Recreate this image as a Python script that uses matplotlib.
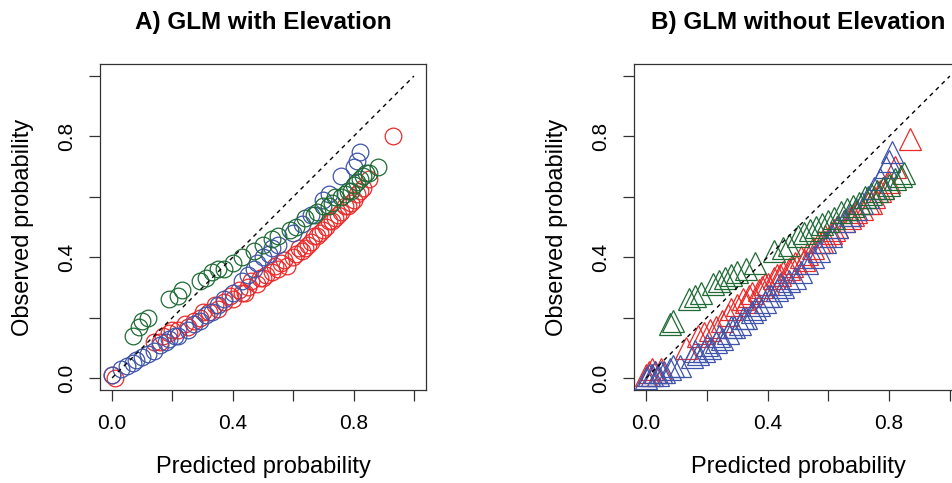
import matplotlib
matplotlib.use("Agg")
import matplotlib.pyplot as plt

plt.rcParams['font.family'] = ['Liberation Sans', 'DejaVu Sans']

RED = '#ec2a2a'
BLUE = '#3f55ab'
GREEN = '#1f6b36'

# Panel A: GLM with elevation (open circles)
a_red_x = [0.00, 0.01, 0.14, 0.16, 0.17, 0.19, 0.20, 0.22, 0.24, 0.25, 0.27, 0.29, 0.30, 0.32,
           0.34, 0.35, 0.37, 0.39, 0.40, 0.42, 0.43, 0.45, 0.46, 0.48, 0.50, 0.51, 0.53, 0.55,
           0.56, 0.58, 0.60, 0.61, 0.63, 0.65, 0.66, 0.68, 0.70, 0.71, 0.73, 0.75, 0.76, 0.78,
           0.80, 0.81, 0.83, 0.85, 0.93,
           0.44, 0.49, 0.54, 0.57, 0.62, 0.64, 0.67, 0.69, 0.72, 0.74, 0.77, 0.79, 0.82]
a_red_y = [0.01, 0.00, 0.12, 0.12, 0.14, 0.15, 0.16, 0.16, 0.18, 0.17, 0.19, 0.20, 0.22, 0.22,
           0.24, 0.23, 0.25, 0.27, 0.26, 0.29, 0.28, 0.30, 0.32, 0.31, 0.33, 0.34, 0.35, 0.36,
           0.38, 0.37, 0.40, 0.41, 0.42, 0.44, 0.45, 0.47, 0.49, 0.50, 0.52, 0.54, 0.55, 0.57,
           0.59, 0.61, 0.63, 0.66, 0.80,
           0.28, 0.33, 0.37, 0.39, 0.43, 0.43, 0.47, 0.48, 0.52, 0.53, 0.57, 0.58, 0.62]
a_blue_x = [0.00, 0.03, 0.05, 0.07, 0.08, 0.10, 0.12, 0.14, 0.16, 0.18, 0.19, 0.21, 0.22, 0.25,
            0.27, 0.29, 0.31, 0.33, 0.35, 0.37, 0.40, 0.43, 0.45, 0.47, 0.48, 0.50, 0.52, 0.53,
            0.55, 0.60, 0.63, 0.66, 0.70, 0.72, 0.76, 0.80, 0.81, 0.82]
a_blue_y = [0.01, 0.03, 0.04, 0.05, 0.06, 0.07, 0.08, 0.09, 0.11, 0.12, 0.13, 0.14, 0.14, 0.16,
            0.18, 0.19, 0.21, 0.22, 0.24, 0.26, 0.28, 0.32, 0.34, 0.36, 0.38, 0.40, 0.41, 0.43,
            0.44, 0.48, 0.51, 0.54, 0.59, 0.61, 0.67, 0.70, 0.72, 0.75]
a_green_x = [0.07, 0.09, 0.10, 0.12, 0.19, 0.22, 0.23, 0.29, 0.31, 0.33, 0.35, 0.37, 0.40, 0.43,
             0.47, 0.50, 0.53, 0.55, 0.59, 0.61, 0.64, 0.67, 0.68, 0.70, 0.72, 0.73, 0.74, 0.76,
             0.77, 0.78, 0.79, 0.80, 0.81, 0.82, 0.83, 0.84, 0.85, 0.88]
a_green_y = [0.14, 0.17, 0.19, 0.20, 0.26, 0.27, 0.29, 0.32, 0.33, 0.35, 0.36, 0.36, 0.38, 0.40,
             0.42, 0.44, 0.46, 0.47, 0.49, 0.50, 0.53, 0.54, 0.55, 0.57, 0.57, 0.58, 0.60, 0.60,
             0.61, 0.62, 0.62, 0.64, 0.65, 0.66, 0.67, 0.68, 0.68, 0.70]

# Panel B: GLM without elevation (open triangles)
b_red_x = [0.00, 0.01, 0.02, 0.03, 0.05, 0.13, 0.17, 0.19, 0.21, 0.23, 0.25, 0.27, 0.28, 0.30,
           0.32, 0.33, 0.35, 0.37, 0.38, 0.40, 0.42, 0.43, 0.45, 0.47, 0.49, 0.51, 0.53, 0.55,
           0.57, 0.59, 0.61, 0.63, 0.65, 0.67, 0.69, 0.71, 0.73, 0.75, 0.77, 0.80, 0.82, 0.87,
           0.34, 0.39, 0.44, 0.48, 0.52, 0.58, 0.62, 0.68, 0.74, 0.78]
b_red_y = [0.01, 0.02, 0.03, 0.02, 0.03, 0.10, 0.14, 0.15, 0.16, 0.17, 0.19, 0.21, 0.23, 0.24,
           0.26, 0.25, 0.28, 0.29, 0.30, 0.31, 0.33, 0.34, 0.35, 0.36, 0.38, 0.40, 0.41, 0.43,
           0.45, 0.47, 0.48, 0.50, 0.52, 0.53, 0.55, 0.56, 0.58, 0.60, 0.62, 0.65, 0.70, 0.79,
           0.27, 0.31, 0.34, 0.37, 0.39, 0.45, 0.49, 0.54, 0.58, 0.63]
b_blue_x = [0.00, 0.01, 0.02, 0.03, 0.04, 0.05, 0.06, 0.08, 0.09, 0.11, 0.15, 0.17, 0.19, 0.21,
            0.23, 0.25, 0.27, 0.29, 0.31, 0.33, 0.35, 0.37, 0.39, 0.41, 0.43, 0.45, 0.47, 0.49,
            0.51, 0.53, 0.55, 0.57, 0.59, 0.61, 0.63, 0.65, 0.67, 0.69, 0.71, 0.73, 0.75, 0.77,
            0.79, 0.80, 0.81,
            0.16, 0.20, 0.24, 0.28, 0.32, 0.36, 0.40, 0.44]
b_blue_y = [0.00, 0.01, 0.01, 0.02, 0.01, 0.02, 0.02, 0.03, 0.04, 0.04, 0.07, 0.08, 0.09, 0.10,
            0.12, 0.13, 0.15, 0.17, 0.18, 0.20, 0.22, 0.24, 0.25, 0.27, 0.29, 0.30, 0.32, 0.33,
            0.35, 0.38, 0.40, 0.42, 0.45, 0.47, 0.50, 0.52, 0.54, 0.56, 0.58, 0.60, 0.63, 0.66,
            0.70, 0.72, 0.75,
            0.09, 0.11, 0.14, 0.17, 0.20, 0.23, 0.27, 0.31]
b_green_x = [0.08, 0.09, 0.14, 0.16, 0.18, 0.22, 0.24, 0.26, 0.28, 0.30, 0.33, 0.36, 0.42, 0.45,
             0.47, 0.50, 0.52, 0.54, 0.56, 0.58, 0.60, 0.62, 0.64, 0.66, 0.68, 0.70, 0.72, 0.74,
             0.76, 0.78, 0.80, 0.82, 0.84, 0.85]
b_green_y = [0.18, 0.19, 0.26, 0.27, 0.28, 0.31, 0.32, 0.33, 0.34, 0.35, 0.36, 0.38, 0.42, 0.43,
             0.44, 0.47, 0.48, 0.49, 0.50, 0.51, 0.52, 0.53, 0.55, 0.56, 0.57, 0.58, 0.60, 0.61,
             0.62, 0.63, 0.64, 0.66, 0.67, 0.68]

ticks = [0.0, 0.2, 0.4, 0.6, 0.8, 1.0]
tick_labels = ['0.0', '', '0.4', '', '0.8', '']


def style_axes(ax, title):
    ax.set_xlim(-0.04, 1.04)
    ax.set_ylim(-0.04, 1.04)
    ax.plot([0, 1], [0, 1], linestyle=(0, (3, 3)), color='black', lw=1.0, zorder=5)
    ax.set_xticks(ticks)
    ax.set_xticklabels(tick_labels)
    ax.set_yticks(ticks)
    ax.set_yticklabels(tick_labels, rotation=90, va='center')
    ax.tick_params(length=8, width=0.9, color='#333333', labelsize=15, pad=9)
    for s in ax.spines.values():
        s.set_color('#333333')
        s.set_linewidth(0.9)
    ax.set_xlabel('Predicted probability', fontsize=17, labelpad=17)
    ax.set_ylabel('Observed probability', fontsize=17, labelpad=17)
    ax.set_title(title, fontsize=17.5, fontweight='bold', pad=25)


fig = plt.figure(figsize=(9.52, 4.83), dpi=100)
W, H = 952, 483
axA = fig.add_axes([100 / W, 1 - 390 / H, 326 / W, 326 / H])
axB = fig.add_axes([634 / W, 1 - 390 / H, 328 / W, 326 / H])

ms_c = 12
for xs, ys, c in [(a_red_x, a_red_y, RED), (a_blue_x, a_blue_y, BLUE), (a_green_x, a_green_y, GREEN)]:
    axA.plot(xs, ys, 'o', ms=ms_c, mfc='none', mec=c, mew=0.9, linestyle='none')
style_axes(axA, 'A) GLM with Elevation')

ms_t = 15.5
for xs, ys, c in [(b_red_x, b_red_y, RED), (b_blue_x, b_blue_y, BLUE), (b_green_x, b_green_y, GREEN)]:
    axB.plot(xs, ys, '^', ms=ms_t, mfc='none', mec=c, mew=0.9, linestyle='none')
style_axes(axB, 'B) GLM without Elevation')

fig.savefig('out.png', dpi=100)
